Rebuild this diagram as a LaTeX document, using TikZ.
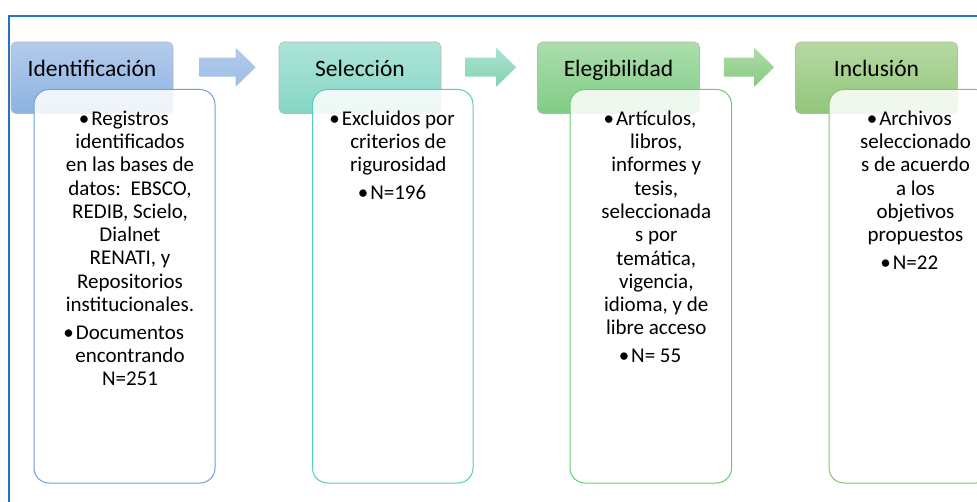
\documentclass[tikz,border=0pt]{standalone}
\usepackage{fontspec}
\setmainfont{Carlito}
\usetikzlibrary{calc}

\definecolor{marco}{RGB}{40,114,190}
\definecolor{idA}{RGB}{180,203,236}
\definecolor{idB}{RGB}{140,178,226}
\definecolor{idC}{RGB}{110,160,222}
\definecolor{seA}{RGB}{172,228,215}
\definecolor{seB}{RGB}{134,214,196}
\definecolor{seC}{RGB}{85,205,188}
\definecolor{elA}{RGB}{172,222,172}
\definecolor{elB}{RGB}{128,204,134}
\definecolor{elC}{RGB}{105,205,115}
\definecolor{inA}{RGB}{182,217,162}
\definecolor{inB}{RGB}{146,198,122}
\definecolor{inC}{RGB}{135,195,100}

% flecha de bloque entre dos coordenadas
\newcommand{\flecha}[3]{%
  \shade[#3] ($(#1)+(0,-9.5)$) -- ($(#2)+(-20,-9.5)$) -- ($(#2)+(-20,-19.5)$) -- (#2)
    -- ($(#2)+(-20,19.5)$) -- ($(#2)+(-20,9.5)$) -- ($(#1)+(0,9.5)$) -- cycle;}

\begin{document}
\begin{tikzpicture}[x=1pt,y=-1pt,
    cabeza/.style={draw=black!28, line width=0.6pt, rounded corners=5pt, minimum width=162pt, minimum height=71.5pt, inner sep=0pt},
    cuerpo/.style={rounded corners=15pt, line width=1pt, fill=white, fill opacity=0.86, minimum height=393.5pt, inner sep=0pt},
    texto/.style={align=center, anchor=north, inner sep=0pt, font=\fontsize{21}{23.3}\selectfont},
    titulo/.style={anchor=base, inner sep=0pt, font=\fontsize{23.5}{28}\selectfont}]

    \useasboundingbox (0,0) rectangle (977,502);
    \clip (0,0) rectangle (977,502);
    \draw[marco, line width=1.8pt] (9,16) rectangle (1000,530);

    % cabezas
    \node[cabeza, top color=idA, bottom color=idB] (ident) at (92,77.75) {};
    \node[cabeza, top color=seA, bottom color=seB] (selec) at (360,77.75) {};
    \node[cabeza, top color=elA, bottom color=elB] (eleg) at (618.5,77.75) {};
    \node[cabeza, top color=inA, bottom color=inB] (incl) at (876.5,77.75) {};

    \node[titulo] (identT) at (92,77) {Identificación};
    \node[titulo] (selecT) at (360,77) {Selección};
    \node[titulo] (elegT) at (618.5,77) {Elegibilidad};
    \node[titulo] (inclT) at (876.5,77) {Inclusión};

    % flechas
    \coordinate (f1a) at ($(ident.east)+(26,-10.5)$);
    \coordinate (f1b) at ($(selec.west)+(-23,-10.5)$);
    \coordinate (f2a) at ($(selec.east)+(24,-10.5)$);
    \coordinate (f2b) at ($(eleg.west)+(-21,-10.5)$);
    \coordinate (f3a) at ($(eleg.east)+(24,-10.5)$);
    \coordinate (f3b) at ($(incl.west)+(-21,-10.5)$);
    \flecha{f1a}{f1b}{top color=idA, bottom color=idB!85!white}
    \flecha{f2a}{f2b}{top color=seA!80!elA, bottom color=seB!70!elB}
    \flecha{f3a}{f3b}{top color=elA!60!inA, bottom color=elB!60!inB}

    % cuerpos
    \node[cuerpo, draw=idC, minimum width=181pt] (identC) at (124.5,286.25) {};
    \node[cuerpo, draw=seC, minimum width=160.5pt] (selecC) at (392.75,286.25) {};
    \node[cuerpo, draw=elC, minimum width=161.5pt] (elegC) at (650.75,286.25) {};
    \node[cuerpo, draw=inC, minimum width=162pt] (inclC) at (910,286.25) {};

    \node[texto] (identX) at ($(identC.north)+(5.5,21.5)$) {\llap{•\kern2pt}Registros\\ identificados\\ en las bases de\\ datos:\ \ EBSCO,\\ REDIB, Scielo,\\ Dialnet\\ RENATI, y\\ Repositorios\\ institucionales.\\[4.5pt] \llap{•\kern2pt}Documentos\\ encontrando\\ N=251};
    \node[texto] (selecX) at ($(selecC.north)+(5.5,21.5)$) {\llap{•\kern2pt}Excluidos por\\ criterios de\\ rigurosidad\\[4.5pt] \llap{•\kern2pt}N=196};
    \node[texto] (elegX) at ($(elegC.north)+(5.5,21.5)$) {\llap{•\kern2pt}Artículos,\\ libros,\\ informes y\\ tesis,\\ seleccionada\\ s por\\ temática,\\ vigencia,\\ idioma, y de\\ libre acceso\\[4.5pt] \llap{•\kern2pt}N= 55};
    \node[texto] (inclX) at ($(inclC.north)+(5.5,21.5)$) {\llap{•\kern2pt}Archivos\\ seleccionado\\ s de acuerdo\\ a los\\ objetivos\\ propuestos\\[4.5pt] \llap{•\kern2pt}N=22};
\end{tikzpicture}
\end{document}
